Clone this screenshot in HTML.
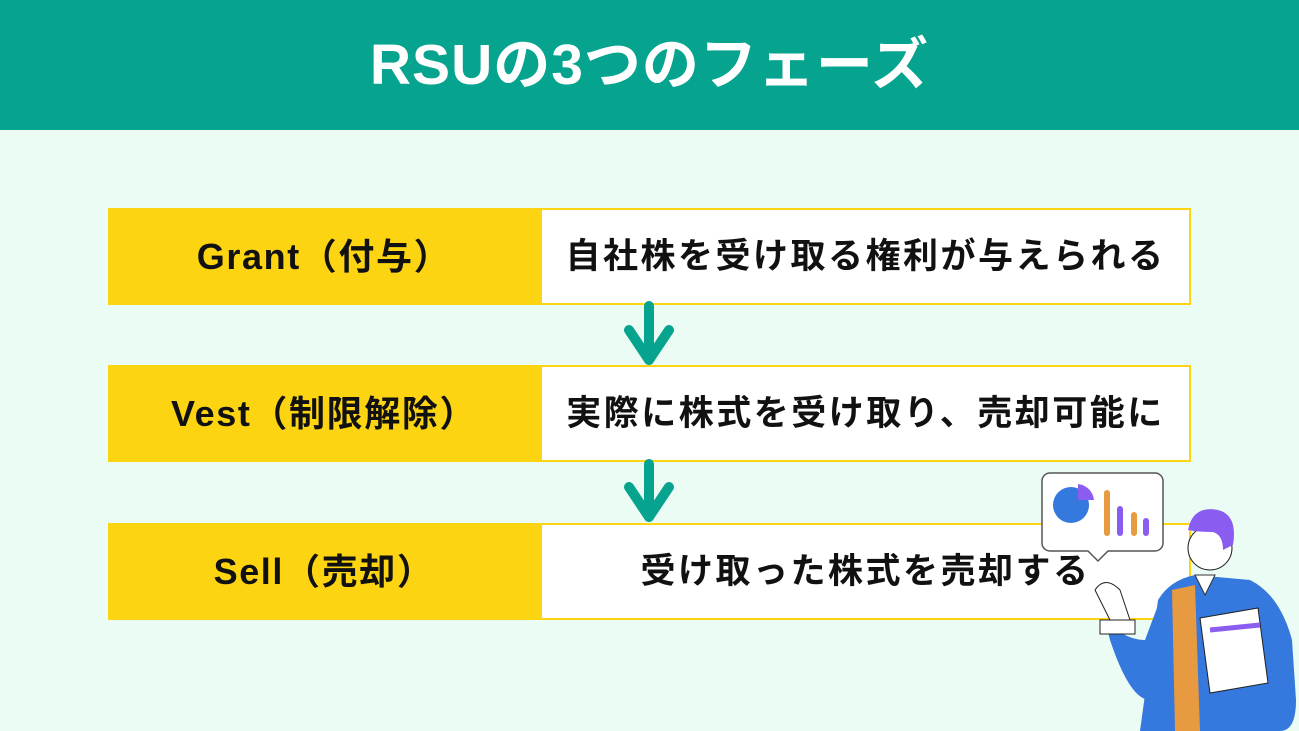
<!DOCTYPE html>
<html><head><meta charset="utf-8"><style>
body{margin:0;width:1299px;height:731px;background:#ebfcf4;position:relative;overflow:hidden;font-family:"Liberation Sans","Noto Sans CJK JP",sans-serif;font-weight:bold}
.hdr{position:absolute;left:0;top:0;width:1299px;height:130px;background:#06a38f;color:#fff;font-size:57px;letter-spacing:1px;text-align:center;line-height:130px}
.l{position:absolute;left:108px;width:432px;height:97px;background:#fcd412;font-size:36px;letter-spacing:1.6px;text-align:center;line-height:97px;color:#111}
.r{position:absolute;left:540px;width:647px;height:93px;background:#fff;border:2px solid #fcd412;font-size:35px;letter-spacing:2.5px;text-align:center;line-height:93px;color:#111}
</style></head><body>
<div class="hdr">RSUの3つのフェーズ</div>
<div class="l" style="top:208px">Grant（付与）</div><div class="r" style="top:208px">自社株を受け取る権利が与えられる</div>
<div class="l" style="top:365px">Vest（制限解除）</div><div class="r" style="top:365px">実際に株式を受け取り、売却可能に</div>
<div class="l" style="top:523px">Sell（売却）</div><div class="r" style="top:523px">受け取った株式を売却する</div>
<svg style="position:absolute;left:0;top:0" width="1299" height="731">
<g stroke="#06a38f" stroke-width="10" stroke-linecap="round" fill="none" stroke-linejoin="round">
<line x1="649" y1="306" x2="649" y2="360"/><polyline points="629,330 649,360 669,330"/>
<line x1="649" y1="464" x2="649" y2="517"/><polyline points="629,487 649,517 669,487"/>
</g>
<path d="M1050,473 h105 a8,8 0 0 1 8,8 v62 a8,8 0 0 1 -8,8 h-47 l-10,10 l-10,-10 h-38 a8,8 0 0 1 -8,-8 v-62 a8,8 0 0 1 8,-8z" fill="#fff" stroke="#555" stroke-width="1.5"/>
<circle cx="1071" cy="505" r="18" fill="#3578de"/><path d="M1078,484 a18,18 0 0 1 16,16 h-16z" fill="#8b5cf0"/>
<rect x="1104" y="490" width="6" height="46" rx="3" fill="#e89a40"/><rect x="1117" y="506" width="6" height="30" rx="3" fill="#8b5cf0"/><rect x="1131" y="512" width="6" height="24" rx="3" fill="#e89a40"/><rect x="1143" y="518" width="6" height="18" rx="3" fill="#8b5cf0"/>
<path d="M1140,731 L1158,600 Q1170,580 1195,575 L1250,580 Q1280,595 1292,640 L1296,700 Q1296,731 1280,731z" fill="#3578de"/>
<path d="M1105,620 Q1125,640 1145,640 L1160,600 L1150,700 Q1130,700 1110,640z" fill="#3578de"/>
<path d="M1172,590 L1195,585 L1200,731 L1175,731z" fill="#e89a40"/>
<rect x="1100" y="620" width="35" height="14" fill="#fff" stroke="#222"/>
<path d="M1095,590 q10,-15 25,0 l10,30 h-20z" fill="#fff" stroke="#222"/>
<path d="M1200,618 l58,-10 l10,75 l-58,10z" fill="#fff" stroke="#222"/>
<path d="M1210,630 l50,-5" stroke="#8b5cf0" stroke-width="5"/>
<circle cx="1210" cy="548" r="22" fill="#fff" stroke="#222"/>
<path d="M1188,530 q5,-25 30,-20 q20,5 15,35 l-10,5 q0,-15 -10,-18 q-15,0 -25,-2z" fill="#8b5cf0"/>
<path d="M1195,575 l10,20 l10,-20z" fill="#fff" stroke="#333"/>
</svg>
</body></html>
